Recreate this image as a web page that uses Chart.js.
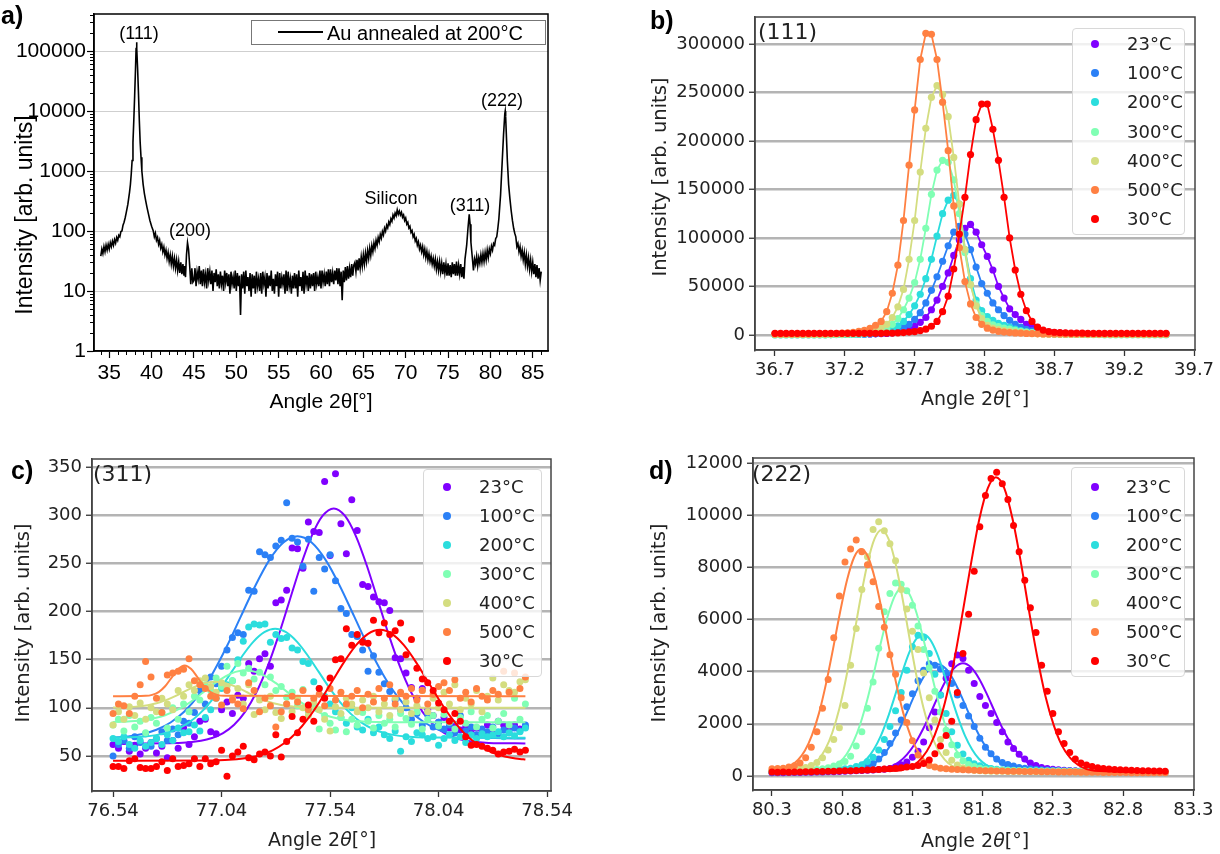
<!DOCTYPE html>
<html>
<head>
<meta charset="utf-8">
<style>
  html, body { margin: 0; padding: 0; background: #fff; }
  body { position: relative; width: 1220px; height: 854px; overflow: hidden; font-family: 'DejaVu Sans', sans-serif; color: #222; }
  canvas { position: absolute; }
  .t { position: absolute; white-space: nowrap; line-height: 1; }
  .c { transform: translate(-50%, -50%); }
  .rot { transform: translate(-50%, -50%) rotate(-90deg); }
  .arial { font-family: 'Liberation Sans', Arial, sans-serif; color: #000; }
  .tag { font-family: 'Liberation Sans', Arial, sans-serif; font-weight: bold; font-size: 25px; color: #000; }
  .leg { position: absolute; background: rgba(255,255,255,0.8); border: 1px solid #d8d8d8; border-radius: 4px; box-sizing: border-box; }
  .dot { position: absolute; width: 8px; height: 8px; border-radius: 50%; transform: translate(-50%, -50%); }
</style>
<script src="https://cdn.jsdelivr.net/npm/chart.js"></script>
<title>Au XRD</title>
</head>
<body>
<canvas id="chart_a" width="600" height="420" style="left:0;top:0"></canvas>
<canvas id="chart_b" width="620" height="420" style="left:600px;top:0"></canvas>
<canvas id="chart_c" width="600" height="434" style="left:0;top:420px"></canvas>
<canvas id="chart_d" width="610" height="434" style="left:610px;top:420px"></canvas>

<!-- panel a texts -->
<div class="t tag" style="left:1px;top:3px">a)</div>
<div class="t arial rot" style="left:24px;top:215px;font-size:23px">Intensity [arb. units]</div>
<div class="t arial c" style="left:321px;top:400px;font-size:21px">Angle 2θ[°]</div>
<div class="t arial c" style="left:139px;top:33px;font-size:18px">(111)</div>
<div class="t arial c" style="left:190px;top:230px;font-size:18px">(200)</div>
<div class="t arial c" style="left:391px;top:198px;font-size:18px">Silicon</div>
<div class="t arial c" style="left:470px;top:205px;font-size:18px">(311)</div>
<div class="t arial c" style="left:502px;top:100px;font-size:18px">(222)</div>
<div style="position:absolute;left:251px;top:20px;width:295px;height:25px;border:1px solid #777;box-sizing:border-box;background:#fff"></div>
<div style="position:absolute;left:278px;top:31px;width:45px;height:2px;background:#000"></div>
<div class="t arial" style="left:327px;top:23px;font-size:20px">Au annealed at 200°C</div>

<!-- panel b texts -->
<div class="t tag" style="left:650px;top:8px">b)</div>
<div class="t rot" style="left:660px;top:177px;font-size:19.5px">Intensity [arb. units]</div>
<div class="t c" style="left:975px;top:398px;font-size:19px">Angle 2<i>θ</i>[°]</div>
<div class="t" style="left:758px;top:21px;font-size:22px">(111)</div>

<!-- panel c texts -->
<div class="t tag" style="left:11px;top:458px">c)</div>
<div class="t rot" style="left:23px;top:623px;font-size:19.5px">Intensity [arb. units]</div>
<div class="t c" style="left:322px;top:839px;font-size:19px">Angle 2<i>θ</i>[°]</div>
<div class="t" style="left:93px;top:463px;font-size:22px">(311)</div>

<!-- panel d texts -->
<div class="t tag" style="left:649px;top:458px">d)</div>
<div class="t rot" style="left:659px;top:623px;font-size:19.5px">Intensity [arb. units]</div>
<div class="t c" style="left:975px;top:840px;font-size:19px">Angle 2<i>θ</i>[°]</div>
<div class="t" style="left:752px;top:463px;font-size:22px">(222)</div>

<script>
// ---------- shared ----------
const temps = ['23°C', '100°C', '200°C', '300°C', '400°C', '500°C', '30°C'];
const colors = ['#8000ff', '#2b80f6', '#2bdddd', '#80ffb4', '#d4dd80', '#ff8042', '#ff0000'];

// ---------- a) full scan, log scale ----------
const aAngle = [
  34.0, 34.125, 34.25, 34.375, 34.5, 34.625, 34.75, 34.875,
  35.0, 35.125, 35.25, 35.375, 35.5, 35.625, 35.75, 35.875,
  36.0, 36.125, 36.25, 36.375, 36.5, 36.625, 36.75, 36.875,
  37.0, 37.2, 37.4, 37.5, 37.6, 37.7, 37.8, 37.9,
  38.0, 38.1, 38.17, 38.22, 38.27, 38.35, 38.45, 38.55,
  38.65, 38.75, 38.85, 39.0, 39.15, 39.3, 39.45, 39.6,
  39.8, 40.0, 40.2, 40.325, 40.45, 40.575, 40.7, 40.825,
  40.95, 41.075, 41.2, 41.325, 41.45, 41.575, 41.7, 41.825,
  41.95, 42.075, 42.2, 42.325, 42.45, 42.575, 42.7, 42.825,
  42.95, 43.075, 43.2, 43.325, 43.45, 43.575, 43.7, 43.825,
  43.9, 44.0, 44.12, 44.24, 44.36, 44.5, 44.625, 44.75, 44.875,
  45.0, 45.125, 45.25, 45.375, 45.5, 45.625, 45.75, 45.875,
  46.0, 46.125, 46.25, 46.375, 46.5, 46.625, 46.75, 46.875,
  47.0, 47.125, 47.25, 47.375, 47.5, 47.625, 47.75, 47.875,
  48.0, 48.125, 48.25, 48.375, 48.5, 48.625, 48.75, 48.875,
  49.0, 49.125, 49.25, 49.375, 49.5, 49.625, 49.75, 49.875,
  50.0, 50.125, 50.25, 50.375, 50.5, 50.625, 50.75, 50.875,
  51.0, 51.125, 51.25, 51.375, 51.5, 51.625, 51.75, 51.875,
  52.0, 52.125, 52.25, 52.375, 52.5, 52.625, 52.75, 52.875,
  53.0, 53.125, 53.25, 53.375, 53.5, 53.625, 53.75, 53.875,
  54.0, 54.125, 54.25, 54.375, 54.5, 54.625, 54.75, 54.875,
  55.0, 55.125, 55.25, 55.375, 55.5, 55.625, 55.75, 55.875,
  56.0, 56.125, 56.25, 56.375, 56.5, 56.625, 56.75, 56.875,
  57.0, 57.125, 57.25, 57.375, 57.5, 57.625, 57.75, 57.875,
  58.0, 58.125, 58.25, 58.375, 58.5, 58.625, 58.75, 58.875,
  59.0, 59.125, 59.25, 59.375, 59.5, 59.625, 59.75, 59.875,
  60.0, 60.125, 60.25, 60.375, 60.5, 60.625, 60.75, 60.875,
  61.0, 61.125, 61.25, 61.375, 61.5, 61.625, 61.75, 61.875,
  62.0, 62.125, 62.25, 62.375, 62.5, 62.625, 62.75, 62.875,
  63.0, 63.125, 63.25, 63.375, 63.5, 63.625, 63.75, 63.875,
  64.0, 64.125, 64.25, 64.375, 64.5, 64.625, 64.75, 64.875,
  65.0, 65.125, 65.25, 65.375, 65.5, 65.625, 65.75, 65.875,
  66.0, 66.125, 66.25, 66.375, 66.5, 66.625, 66.75, 66.875,
  67.0, 67.125, 67.25, 67.375, 67.5, 67.625, 67.75, 67.875,
  68.0, 68.125, 68.25, 68.375, 68.5, 68.625, 68.75, 68.875,
  69.0, 69.125, 69.25, 69.375, 69.5, 69.625, 69.75, 69.875,
  70.0, 70.125, 70.25, 70.375, 70.5, 70.625, 70.75, 70.875,
  71.0, 71.125, 71.25, 71.375, 71.5, 71.625, 71.75, 71.875,
  72.0, 72.125, 72.25, 72.375, 72.5, 72.625, 72.75, 72.875,
  73.0, 73.125, 73.25, 73.375, 73.5, 73.625, 73.75, 73.875,
  74.0, 74.125, 74.25, 74.375, 74.5, 74.625, 74.75, 74.875,
  75.0, 75.125, 75.25, 75.375, 75.5, 75.625, 75.75, 75.875,
  76.0, 76.125, 76.25, 76.375, 76.5, 76.625, 76.75, 76.875,
  77.0, 77.2, 77.35, 77.5, 77.6, 77.7, 77.85,
  78.0, 78.125, 78.25, 78.375, 78.5, 78.625, 78.75, 78.875,
  79.0, 79.125, 79.25, 79.375, 79.5, 79.625, 79.75, 79.875,
  80.0, 80.125, 80.25, 80.375, 80.5, 80.625, 80.75, 80.875,
  81.0, 81.2, 81.4, 81.55, 81.7, 81.75, 81.8, 81.9, 82.0, 82.15,
  82.3, 82.45, 82.6, 82.75, 82.875,
  83.0, 83.125, 83.25, 83.375, 83.5, 83.625, 83.75, 83.875,
  84.0, 84.125, 84.25, 84.375, 84.5, 84.625, 84.75, 84.875,
  85.0, 85.125, 85.25, 85.375, 85.5, 85.625, 85.75, 85.875,
  86.0
];
const aCounts = [
  38, 50, 42, 55, 45, 58, 48, 60,
  50, 64, 55, 68, 58, 72, 63, 78,
  70, 85, 80, 98, 100, 125, 140, 165,
  200, 280, 450, 600, 900, 1500, 3000, 7000,
  18000, 50000, 110000, 140000, 110000, 50000, 20000, 7000,
  3000, 1700, 1000, 600, 420, 320, 250, 200,
  150, 120, 100, 80, 92, 70, 78, 60,
  70, 52, 60, 45, 54, 40, 48, 35,
  44, 31, 40, 28, 38, 26, 35, 24,
  33, 22, 31, 20, 30, 19, 28, 18,
  26, 17, 40, 64, 50, 26, 13, 24, 14,
  15, 24, 12, 21, 16, 26, 13, 22,
  12, 23, 14, 19, 11, 24, 15, 21,
  13, 22, 10, 20, 14, 23, 12, 19,
  11, 21, 13, 18, 10, 22, 14, 20,
  12, 19, 9, 21, 13, 17, 11, 22,
  10, 20, 12, 18, 4, 19, 11, 21,
  9, 22, 12, 17, 10, 20, 8, 19,
  11, 18, 9, 21, 12, 16, 10, 20,
  9, 21, 13, 17, 8, 20, 11, 18,
  12, 22, 10, 16, 9, 19, 12, 21,
  8, 20, 11, 17, 13, 19, 9, 22,
  10, 21, 12, 16, 9, 18, 11, 20,
  11, 19, 8, 22, 12, 17, 10, 21,
  9, 22, 13, 18, 10, 20, 11, 19,
  12, 20, 10, 21, 13, 17, 12, 22,
  11, 22, 14, 19, 12, 21, 13, 23,
  12, 23, 14, 20, 13, 22, 15, 24,
  13, 24, 12, 21, 7, 22, 14, 25,
  15, 26, 16, 24, 17, 28, 18, 27,
  30, 21, 33, 22, 35, 24, 37, 26,
  40, 28, 43, 31, 47, 35, 52, 39,
  57, 45, 63, 51, 70, 58, 78, 66,
  88, 76, 98, 86, 112, 99, 125, 113,
  142, 128, 160, 145, 185, 165, 200, 180,
  225, 190, 215, 185, 205, 170, 185, 150,
  165, 130, 140, 112, 120, 95, 102, 80,
  88, 68, 75, 58, 66, 50, 58, 45,
  55, 40, 50, 36, 46, 33, 42, 31,
  38, 28, 35, 26, 34, 23, 31, 22,
  31, 21, 29, 19, 30, 20, 28, 18,
  29, 18, 27, 17, 30, 19, 28, 18,
  31, 18, 27, 19, 28, 17, 25, 16,
  34, 58, 110, 190, 130, 65, 38,
  22, 34, 28, 38, 26, 36, 29, 40,
  30, 42, 31, 44, 33, 48, 36, 50,
  42, 56, 48, 62, 58, 75, 80, 110,
  160, 400, 1500, 4000, 9000, 10000, 8000, 3500, 1500, 600,
  350, 220, 150, 110, 92,
  80, 55, 62, 45, 55, 38, 48, 33,
  44, 28, 40, 26, 36, 23, 33, 21,
  30, 19, 28, 17, 27, 16, 24, 15,
  21
];
const aXTicks = [35, 40, 45, 50, 55, 60, 65, 70, 75, 80, 85];
const aYTicks = [1, 10, 100, 1000, 10000, 100000];

// ---------- b) (111) ----------
const bAngle = [
  36.70, 36.74, 36.78, 36.82, 36.86, 36.90, 36.94, 36.98, 37.02, 37.06,
  37.10, 37.14, 37.18, 37.22, 37.26, 37.30, 37.34, 37.38, 37.42, 37.46,
  37.50, 37.54, 37.58, 37.62, 37.66, 37.70, 37.74, 37.78, 37.82, 37.86,
  37.90, 37.94, 37.98, 38.02, 38.06, 38.10, 38.14, 38.18, 38.22, 38.26,
  38.30, 38.34, 38.38, 38.42, 38.46, 38.50, 38.54, 38.58, 38.62, 38.66,
  38.70, 38.74, 38.78, 38.82, 38.86, 38.90, 38.94, 38.98, 39.02, 39.06,
  39.10, 39.14, 39.18, 39.22, 39.26, 39.30, 39.34, 39.38, 39.42, 39.46,
  39.50
];
const b23 = [
  500, 500, 500, 500, 500, 500, 500, 500, 500, 500,
  550, 600, 650, 700, 750, 800, 900, 1000, 1200, 1400,
  1500, 2200, 3200, 4500, 6500, 9000, 13000, 18000, 26000, 36000,
  50000, 64000, 82000, 98000, 110000, 114000, 106000, 93000, 81000, 67000,
  50000, 38000, 27000, 21000, 16000, 11000, 8000, 5500, 4000, 3000,
  2400, 2000, 1700, 1500, 1300, 1200, 1100, 1000, 900, 800,
  800, 700, 700, 600, 600, 600, 500, 500, 500, 500,
  500
];
const b100 = [
  400, 400, 400, 400, 400, 400, 400, 400, 400, 400,
  450, 500, 550, 600, 650, 700, 850, 1000, 1200, 1800,
  2600, 3800, 5500, 8000, 11000, 16000, 23000, 33000, 46000, 60000,
  76000, 92000, 106000, 112000, 104000, 88000, 70000, 53000, 43000, 33000,
  26000, 20000, 15000, 11000, 8000, 5800, 4200, 3200, 2500, 2000,
  1600, 1300, 1100, 900, 800, 700, 700, 600, 600, 500,
  500, 500, 500, 500, 500, 500, 500, 500, 500, 500,
  500
];
const b200 = [
  300, 300, 300, 300, 300, 300, 300, 300, 300, 300,
  350, 400, 450, 500, 600, 800, 1100, 1500, 2200, 3200,
  4500, 6500, 9500, 14000, 21000, 30000, 42000, 58000, 78000, 102000,
  125000, 139000, 144000, 135000, 88000, 58000, 36000, 25000, 19000, 15000,
  12000, 10000, 8000, 6000, 4500, 3300, 2500, 2000, 1600, 1300,
  1100, 900, 800, 700, 600, 600, 500, 500, 500, 400,
  400, 400, 400, 400, 400, 400, 400, 400, 400, 400,
  400
];
const b300 = [
  300, 300, 300, 300, 300, 300, 300, 300, 300, 300,
  400, 500, 600, 700, 850, 1000, 1500, 2200, 3200, 4800,
  7000, 11000, 17000, 26000, 38000, 54000, 78000, 110000, 145000, 170000,
  180000, 178000, 160000, 125000, 85000, 52000, 32000, 20000, 14000, 10500,
  8500, 7200, 6000, 4800, 3800, 3000, 2400, 1900, 1500, 1200,
  1000, 800, 700, 600, 500, 500, 400, 400, 400, 300,
  300, 300, 300, 300, 300, 300, 300, 300, 300, 300,
  300
];
const b400 = [
  500, 500, 500, 500, 500, 500, 500, 500, 500, 500,
  600, 700, 800, 1000, 1300, 1800, 2500, 3500, 5000, 7500,
  11000, 18000, 29000, 47000, 78000, 118000, 168000, 213000, 245000, 257000,
  248000, 225000, 183000, 135000, 88000, 52000, 30000, 17000, 10000, 7000,
  5500, 4500, 3800, 3000, 2400, 1900, 1500, 1200, 1000, 800,
  700, 600, 600, 500, 500, 500, 500, 500, 500, 500,
  500, 500, 500, 500, 500, 500, 500, 500, 500, 500,
  500
];
const b500 = [
  1000, 1000, 1000, 1100, 1100, 1100, 1100, 1200, 1200, 1200,
  1300, 1500, 1800, 2200, 2800, 3600, 4800, 6800, 10000, 14000,
  24000, 43000, 72000, 118000, 175000, 232000, 284000, 311000, 310000, 284000,
  240000, 190000, 133000, 90000, 55000, 32000, 18000, 11000, 7000, 5000,
  3800, 3000, 2500, 2100, 1800, 1500, 1300, 1200, 1100, 1000,
  1000, 1000, 1000, 1000, 1000, 1000, 1000, 1000, 1000, 1000,
  1000, 1000, 1000, 1000, 1000, 1000, 1000, 1000, 1000, 1000,
  1000
];
const b30 = [
  1700, 1700, 1700, 1700, 1700, 1700, 1700, 1700, 1700, 1700,
  1700, 1700, 1700, 1700, 1700, 1700, 1700, 1700, 1700, 1700,
  2000, 2000, 2200, 2500, 3000, 3500, 4500, 6000, 9000, 14000,
  24000, 40000, 68000, 104000, 142000, 186000, 222000, 238000, 238000, 212000,
  180000, 142000, 100000, 67000, 42000, 25000, 14000, 8000, 5000, 3500,
  2800, 2400, 2200, 2000, 1900, 1800, 1700, 1700, 1700, 1700,
  1700, 1700, 1700, 1700, 1700, 1700, 1700, 1700, 1700, 1700,
  1700
];
const bXTicks = [36.7, 37.2, 37.7, 38.2, 38.7, 39.2, 39.7];
const bYTicks = [0, 50000, 100000, 150000, 200000, 250000, 300000];

// ---------- c) (311) ----------
const cAngle = [
  76.54, 76.565, 76.59, 76.615, 76.64, 76.665, 76.69, 76.715, 76.74, 76.765,
  76.79, 76.815, 76.84, 76.865, 76.89, 76.915, 76.94, 76.965, 76.99, 77.015,
  77.04, 77.065, 77.09, 77.115, 77.14, 77.165, 77.19, 77.215, 77.24, 77.265,
  77.29, 77.315, 77.34, 77.365, 77.39, 77.415, 77.44, 77.465, 77.49, 77.515,
  77.54, 77.565, 77.59, 77.615, 77.64, 77.665, 77.69, 77.715, 77.74, 77.765,
  77.79, 77.815, 77.84, 77.865, 77.89, 77.915, 77.94, 77.965, 77.99, 78.015,
  78.04, 78.065, 78.09, 78.115, 78.14, 78.165, 78.19, 78.215, 78.24, 78.265,
  78.29, 78.315, 78.34, 78.365, 78.39, 78.415, 78.44
];
const c23 = [
  62, 58, 65, 55, 61, 52, 58, 64, 53, 60,
  48, 66, 58, 79, 62, 70, 86, 88, 75, 73,
  98, 106, 94, 113, 110, 146, 138, 151, 156, 143,
  209, 212, 222, 266, 265, 245, 293, 283, 282, 335,
  258, 343, 291, 260, 316, 284, 228, 226, 215, 210,
  209, 201, 152, 151, 136, 121, 110, 120, 98, 92,
  85, 90, 79, 83, 77, 80, 74, 79, 75, 82,
  76, 86, 82, 80, 82, 78, 80
];
const c100 = [
  50, 62, 66, 58, 70, 64, 73, 60, 68, 75,
  66, 78, 72, 86, 84, 95, 118, 104, 132, 125,
  143, 160, 173, 178, 176, 222, 221, 262, 259, 256,
  268, 274, 313, 276, 272, 247, 275, 221, 256, 244,
  259, 232, 203, 198, 176, 174, 160, 138, 154, 137,
  125, 117, 108, 98, 100, 88, 94, 82, 93, 80,
  85, 78, 82, 74, 92, 76, 80, 72, 78, 75,
  80, 73, 77, 74, 79, 76, 82
];
const c200 = [
  68, 65, 70, 62, 58, 66, 60, 64, 68, 62,
  72, 66, 79, 74, 75, 82, 76, 90, 98, 110,
  120, 124, 128, 150, 169, 184, 187, 186, 187, 168,
  176, 172, 173, 162, 160, 148, 146, 127, 120, 112,
  104, 96, 90, 84, 100, 80, 77, 88, 74, 80,
  72, 68, 76, 55, 70, 65, 74, 72, 68, 70,
  61, 68, 72, 66, 70, 64, 72, 68, 73, 70,
  72, 75, 70, 74, 71, 75, 79
];
const c300 = [
  82, 88, 76, 92, 80, 86, 74, 90, 84, 95,
  79, 100, 88, 104, 96, 112, 108, 124, 118, 131,
  122, 143, 128, 146, 136, 141, 130, 137, 124, 132,
  118, 122, 111, 116, 102, 119, 96, 101, 78, 92,
  84, 77, 90, 75, 88, 82, 95, 86, 79, 92,
  84, 88, 80, 94, 89, 83, 96, 78, 88, 92,
  81, 93, 85, 78, 90, 84, 96, 80, 88, 92,
  79, 86, 94, 82, 110, 88, 104
];
const c400 = [
  82, 96, 88, 101, 92, 105, 88, 100, 96, 110,
  104, 98, 118, 112, 124, 118, 128, 131, 122, 116,
  126, 122, 110, 120, 104, 124, 93, 108, 98, 112,
  95, 89, 104, 96, 110, 100, 92, 106, 98, 88,
  76, 101, 94, 110, 104, 96, 108, 100, 112, 96,
  104, 92, 110, 98, 106, 94, 102, 118, 96, 110,
  100, 116, 104, 124, 98, 110, 104, 118, 96, 112,
  131, 108, 124, 118, 116, 127, 129
];
const c500 = [
  94, 104, 102, 94, 112, 124, 148, 132, 110, 95,
  134, 136, 138, 140, 151, 128, 124, 120, 112, 110,
  103, 118, 108, 104, 99, 126, 118, 96, 110, 102,
  80, 96, 104, 112, 106, 118, 98, 110, 114, 102,
  120, 108, 116, 104, 112, 118, 100, 114, 106, 120,
  110, 124, 104, 116, 112, 120, 108, 118, 104, 114,
  122, 126, 118, 129, 110, 116, 106, 120, 112, 108,
  118, 114, 138, 116, 136, 120, 132
];
const c30 = [
  39, 39, 37, 45, 47, 38, 37, 37, 39, 44,
  35, 47, 39, 40, 42, 47, 39, 47, 42, 44,
  56, 29, 50, 54, 60, 48, 46, 52, 54, 50,
  72, 49, 65, 91, 74, 88, 103, 86, 120, 110,
  131, 150, 151, 182, 165, 176, 168, 167, 191, 178,
  188, 176, 180, 188, 155, 171, 141, 130, 126, 118,
  105, 98, 86, 94, 86, 70, 61, 62, 60, 58,
  56, 52, 54, 55, 57, 54, 56
];
// fitted curves for c
const cFitX23 = [76.54, 76.843, 76.945, 76.996, 77.047, 77.098, 77.149, 77.2, 77.251, 77.302, 77.353, 77.404, 77.455, 77.506, 77.557, 77.608, 77.659, 77.71, 77.761, 77.812, 77.863, 77.914, 77.965, 78.016, 78.067, 78.118, 78.169, 78.271, 78.44];
const cFit23 = [63, 63.5, 65.7, 68.6, 73.7, 82.4, 96, 115.8, 142.2, 174.7, 211, 247.2, 278.3, 299.4, 307, 299.4, 278.3, 247.2, 211, 174.7, 142.2, 115.8, 96, 82.4, 73.7, 68.6, 65.7, 63.5, 63];
const cFitX100 = [76.54, 76.61, 76.675, 76.74, 76.805, 76.87, 76.935, 77.0, 77.065, 77.13, 77.195, 77.26, 77.325, 77.39, 77.455, 77.52, 77.585, 77.65, 77.715, 77.78, 77.845, 77.91, 77.975, 78.04, 78.105, 78.17, 78.3, 78.44];
const cFit100 = [69, 70.3, 72.8, 77.2, 84.7, 96.4, 113.4, 136.2, 164.1, 195.4, 226.5, 253.3, 271.5, 278, 271.5, 253.3, 226.5, 195.4, 164.1, 136.2, 113.4, 96.4, 84.7, 77.2, 72.8, 70.3, 68.5, 68];
const cFitX200 = [76.54, 76.587, 76.687, 76.737, 76.787, 76.837, 76.887, 76.937, 76.987, 77.037, 77.087, 77.137, 77.187, 77.237, 77.287, 77.337, 77.387, 77.437, 77.487, 77.537, 77.587, 77.637, 77.687, 77.737, 77.787, 77.837, 77.887, 77.987, 78.44];
const cFit200 = [69, 69.2, 70.3, 71.6, 74, 78, 84.3, 93.4, 105.7, 120.7, 137.5, 154.3, 168.7, 178.5, 182, 178.5, 168.7, 154.3, 137.5, 120.7, 105.7, 93.4, 84.3, 78, 74, 71.6, 70.3, 69.2, 69];
const cFitX300 = [76.54, 76.595, 76.641, 76.688, 76.734, 76.78, 76.826, 76.873, 76.919, 76.965, 77.011, 77.058, 77.104, 77.15, 77.196, 77.243, 77.289, 77.335, 77.381, 77.428, 77.474, 77.52, 77.566, 77.613, 77.659, 77.705, 77.798, 78.44];
const cFit300 = [85.3, 85.6, 86.2, 87.4, 89.3, 92.3, 96.7, 102.5, 109.7, 117.8, 125.8, 132.7, 137.3, 139, 137.3, 132.7, 125.8, 117.8, 109.7, 102.5, 96.7, 92.3, 89.3, 87.4, 86.2, 85.6, 85.1, 85];
const cFitX400 = [76.54, 76.575, 76.611, 76.648, 76.684, 76.72, 76.756, 76.793, 76.829, 76.865, 76.901, 76.938, 76.974, 77.01, 77.046, 77.083, 77.119, 77.155, 77.191, 77.228, 77.264, 77.3, 77.336, 77.373, 77.409, 77.445, 77.518, 78.44];
const cFit400 = [100.2, 100.3, 100.6, 101.2, 102.1, 103.7, 105.8, 108.8, 112.4, 116.4, 120.4, 123.8, 126.2, 127, 126.2, 123.8, 120.4, 116.4, 112.4, 108.8, 105.8, 103.7, 102.1, 101.2, 100.6, 100.3, 100.1, 100];
const cFitX500 = [76.54, 76.69, 76.72, 76.75, 76.78, 76.81, 76.84, 76.87, 76.9, 76.93, 76.96, 76.99, 77.02, 77.05, 78.44];
const cFit500 = [112, 112.4, 113.4, 116.3, 122.4, 131.4, 140.2, 144, 140.2, 131.4, 122.4, 116.3, 113.4, 112.4, 112];
const cFitX30 = [76.54, 77.0, 77.11, 77.165, 77.22, 77.275, 77.33, 77.385, 77.44, 77.495, 77.55, 77.605, 77.66, 77.715, 77.77, 77.825, 77.88, 77.935, 77.99, 78.045, 78.1, 78.155, 78.21, 78.265, 78.32, 78.375, 78.43, 78.44];
const cFit30 = [45, 45.3, 46.5, 48.1, 51, 55.8, 63.4, 74.4, 89.2, 107.3, 127.5, 147.7, 165, 176.8, 181, 176.8, 165, 147.7, 127.5, 107.3, 89.2, 74.4, 63.4, 55.8, 51, 48.1, 46.5, 46.3];
const cXTicks = [76.54, 77.04, 77.54, 78.04, 78.54];
const cYTicks = [50, 100, 150, 200, 250, 300, 350];

// ---------- d) (222) ----------
const dAngle = [
  80.30, 80.34, 80.38, 80.42, 80.46, 80.50, 80.54, 80.58, 80.62, 80.66,
  80.70, 80.74, 80.78, 80.82, 80.86, 80.90, 80.94, 80.98, 81.02, 81.06,
  81.10, 81.14, 81.18, 81.22, 81.26, 81.30, 81.34, 81.38, 81.42, 81.46,
  81.50, 81.54, 81.58, 81.62, 81.66, 81.70, 81.74, 81.78, 81.82, 81.86,
  81.90, 81.94, 81.98, 82.02, 82.06, 82.10, 82.14, 82.18, 82.22, 82.26,
  82.30, 82.34, 82.38, 82.42, 82.46, 82.50, 82.54, 82.58, 82.62, 82.66,
  82.70, 82.74, 82.78, 82.82, 82.86, 82.90, 82.94, 82.98, 83.02, 83.06,
  83.10
];
const d23 = [
  120, 120, 120, 130, 130, 130, 140, 140, 150, 150,
  160, 160, 170, 180, 190, 200, 210, 220, 230, 245,
  260, 290, 350, 430, 540, 720, 950, 1300, 1850, 2450,
  3100, 3750, 4300, 4640, 4500, 4050, 3550, 3050, 2700, 2400,
  2050, 1700, 1300, 1050, 830, 650, 500, 400, 330, 290,
  260, 240, 220, 210, 200, 190, 180, 170, 170, 160,
  160, 160, 150, 150, 150, 150, 140, 140, 140, 140,
  140
];
const d100 = [
  140, 140, 150, 150, 150, 160, 160, 170, 170, 180,
  190, 200, 210, 220, 240, 260, 300, 380, 480, 650,
  900, 1250, 1650, 2150, 2650, 3150, 3650, 4050, 4300, 4250,
  4100, 3950, 3550, 3100, 2700, 2300, 1900, 1450, 1100, 850,
  650, 520, 440, 380, 330, 300, 280, 260, 240, 230,
  220, 210, 200, 200, 190, 190, 180, 180, 170, 170,
  170, 160, 160, 160, 160, 150, 150, 150, 150, 150,
  150
];
const d200 = [
  170, 170, 170, 180, 180, 180, 190, 190, 200, 200,
  210, 230, 250, 280, 300, 360, 430, 560, 720, 1000,
  1400, 1900, 2500, 3200, 4050, 4950, 5400, 5300, 4700, 3900,
  3100, 2400, 1700, 1180, 840, 600, 470, 390, 330, 290,
  260, 240, 230, 220, 210, 200, 200, 190, 190, 180,
  180, 180, 170, 170, 170, 170, 160, 160, 160, 160,
  160, 160, 150, 150, 150, 150, 150, 150, 150, 150,
  150
];
const d300 = [
  180, 180, 190, 190, 200, 200, 210, 220, 250, 280,
  320, 380, 460, 560, 760, 1150, 1700, 2600, 3600, 4900,
  6300, 7000, 7400, 7350, 7100, 6550, 5750, 4850, 4150, 3250,
  2450, 1750, 1200, 800, 580, 440, 360, 300, 260, 240,
  230, 220, 220, 210, 210, 200, 200, 200, 190, 190,
  190, 190, 180, 180, 180, 180, 180, 170, 170, 170,
  170, 170, 170, 160, 160, 160, 160, 160, 160, 160,
  160
];
const d400 = [
  200, 210, 220, 240, 260, 290, 330, 400, 520, 700,
  1000, 1400, 1850, 2700, 4250, 5650, 7150, 8400, 9450, 9750,
  9400, 8900, 8250, 7150, 6400, 5550, 4850, 3950, 3000, 2150,
  1400, 900, 600, 420, 320, 260, 220, 200, 190, 180,
  180, 180, 170, 170, 170, 170, 170, 160, 160, 160,
  160, 160, 160, 160, 150, 150, 150, 150, 150, 150,
  150, 150, 150, 150, 150, 140, 140, 140, 140, 140,
  140
];
const d500 = [
  280, 290, 300, 340, 390, 500, 700, 1100, 1700, 2600,
  3700, 5300, 6900, 8200, 8700, 9050, 8600, 8100, 7450, 6500,
  5700, 4650, 3900, 3000, 2050, 1350, 800, 520, 400, 340,
  300, 280, 260, 250, 240, 230, 220, 210, 200, 200,
  190, 190, 180, 180, 180, 170, 170, 170, 160, 160,
  160, 150, 150, 150, 150, 140, 140, 140, 140, 130,
  130, 130, 130, 130, 120, 120, 120, 120, 120, 120,
  120
];
const d30 = [
  150, 140, 150, 140, 150, 150, 160, 160, 170, 170,
  180, 180, 190, 200, 200, 210, 220, 230, 240, 250,
  270, 280, 300, 320, 340, 360, 400, 480, 610, 850,
  1150, 1550, 2100, 3200, 4700, 6200, 7850, 9550, 10750, 11400,
  11640, 11200, 10600, 9600, 8600, 7500, 6450, 5500, 4250, 3250,
  2400, 1700, 1250, 900, 650, 500, 420, 360, 320, 290,
  270, 250, 240, 230, 220, 210, 200, 200, 190, 190,
  180
];
// fitted curves for d
const dFitX23 = [80.3, 80.976, 81.09, 81.147, 81.204, 81.261, 81.318, 81.375, 81.432, 81.489, 81.546, 81.603, 81.66, 81.717, 81.774, 81.831, 81.888, 81.945, 82.002, 82.059, 82.116, 82.173, 82.23, 82.344, 83.1];
const dFit23 = [150, 169, 250, 353, 532, 821, 1234, 1789, 2444, 3131, 3740, 4166, 4320, 4166, 3740, 3131, 2444, 1789, 1234, 821, 532, 353, 250, 169, 150];
const dFitX100 = [80.3, 80.82, 80.93, 80.985, 81.04, 81.095, 81.15, 81.205, 81.26, 81.315, 81.37, 81.425, 81.48, 81.535, 81.59, 81.645, 81.7, 81.755, 81.81, 81.865, 81.92, 81.975, 82.03, 82.14, 83.1];
const dFit100 = [150, 169, 249, 351, 528, 815, 1224, 1773, 2422, 3103, 3706, 4127, 4280, 4127, 3706, 3103, 2422, 1773, 1224, 815, 528, 351, 249, 169, 150];
const dFitX200 = [80.3, 80.775, 80.875, 80.925, 80.975, 81.025, 81.075, 81.125, 81.175, 81.225, 81.275, 81.325, 81.375, 81.425, 81.475, 81.525, 81.575, 81.625, 81.675, 81.725, 81.775, 81.825, 81.875, 81.975, 83.1];
const dFit200 = [170, 194, 296, 426, 651, 1017, 1538, 2237, 3063, 3931, 4699, 5235, 5430, 5235, 4699, 3931, 3063, 2237, 1538, 1017, 651, 426, 296, 194, 170];
const dFitX300 = [80.3, 80.63, 80.73, 80.78, 80.83, 80.88, 80.93, 80.98, 81.03, 81.08, 81.13, 81.18, 81.23, 81.28, 81.33, 81.38, 81.43, 81.48, 81.53, 81.58, 81.63, 81.68, 81.73, 81.83, 83.1];
const dFit300 = [180, 212, 349, 523, 824, 1313, 2010, 2947, 4052, 5214, 6241, 6960, 7220, 6960, 6241, 5214, 4052, 2947, 2010, 1313, 824, 523, 349, 212, 180];
const dFitX400 = [80.3, 80.48, 80.58, 80.63, 80.68, 80.73, 80.78, 80.83, 80.88, 80.93, 80.98, 81.03, 81.08, 81.13, 81.18, 81.23, 81.28, 81.33, 81.38, 81.43, 81.48, 81.53, 81.58, 81.68, 83.1];
const dFit400 = [180, 223, 402, 630, 1026, 1669, 2585, 3815, 5268, 6794, 8144, 9088, 9430, 9088, 8144, 6794, 5268, 3815, 2585, 1669, 1026, 630, 402, 223, 180];
const dFitX500 = [80.3, 80.335, 80.435, 80.485, 80.535, 80.585, 80.635, 80.685, 80.735, 80.785, 80.835, 80.885, 80.935, 80.985, 81.035, 81.085, 81.135, 81.185, 81.235, 81.285, 81.335, 81.385, 81.435, 81.535, 83.1];
const dFit500 = [220, 239, 404, 614, 978, 1569, 2410, 3541, 4875, 6278, 7519, 8386, 8700, 8386, 7519, 6278, 4875, 3541, 2410, 1569, 978, 614, 404, 239, 200];
const dFitX30 = [80.3, 81.193, 81.31, 81.369, 81.427, 81.486, 81.544, 81.603, 81.661, 81.72, 81.778, 81.837, 81.895, 81.954, 82.012, 82.071, 82.129, 82.188, 82.246, 82.305, 82.363, 82.422, 82.48, 82.597, 83.1];
const dFit30 = [150, 202, 421, 700, 1184, 1969, 3088, 4591, 6365, 8230, 9879, 11032, 11450, 11032, 9879, 8230, 6365, 4591, 3088, 1969, 1184, 700, 421, 202, 150];
const dXTicks = [80.3, 80.8, 81.3, 81.8, 82.3, 82.8, 83.3];
const dYTicks = [0, 2000, 4000, 6000, 8000, 10000, 12000];

// ---------- helpers ----------
Chart.defaults.font.family = "'DejaVu Sans', sans-serif";

const toPoints = (xs, ys) => ys.map((y, i) => ({ x: xs[i], y: y }));

// box round the plot area, like the spines
const framePlugin = {
  id: 'frame',
  afterDraw(chart, args, opts) {
    const { ctx, chartArea: a } = chart;
    ctx.save();
    ctx.strokeStyle = opts.color || '#000';
    ctx.lineWidth = opts.width || 1;
    ctx.strokeRect(a.left, a.top, a.right - a.left, a.bottom - a.top);
    ctx.restore();
  }
};

// short minor ticks for the Origin style panel
const minorTicksPlugin = {
  id: 'minorTicks',
  afterDraw(chart) {
    const { ctx, chartArea: a, scales: { x, y } } = chart;
    ctx.save();
    ctx.strokeStyle = '#000';
    ctx.lineWidth = 1;
    ctx.beginPath();
    for (let v = Math.ceil(x.min); v <= x.max; v++) {
      if (v % 5 === 0) continue;
      const px = Math.round(x.getPixelForValue(v)) + 0.5;
      ctx.moveTo(px, a.bottom);
      ctx.lineTo(px, a.bottom + 4);
    }
    for (let dec = 1; dec < y.max; dec *= 10) {
      for (let m = 2; m <= 9; m++) {
        const v = dec * m;
        if (v > y.max) break;
        const py = Math.round(y.getPixelForValue(v)) + 0.5;
        ctx.moveTo(a.left - 4, py);
        ctx.lineTo(a.left, py);
      }
    }
    ctx.stroke();
    ctx.restore();
  }
};

function mplChart(id, datasets, ax) {
  return new Chart(document.getElementById(id), {
    type: 'scatter',
    data: { datasets: datasets },
    options: {
      responsive: false,
      animation: false,
      events: [],
      layout: { padding: { top: ax.padTop, right: ax.padRight, left: 0, bottom: 0 } },
      plugins: {
        legend: { display: false },
        tooltip: { enabled: false },
        frame: { color: '#444', width: 1.5 }
      },
      scales: {
        x: {
          type: 'linear', min: ax.xMin, max: ax.xMax,
          afterBuildTicks: s => { s.ticks = ax.xTicks.map(v => ({ value: v })); },
          afterFit: s => { s.height = ax.xHeight; },
          grid: { drawOnChartArea: false, drawTicks: true, tickLength: 6, tickColor: '#333', tickWidth: 1.3 },
          border: { display: true, color: '#444', width: 1.5 },
          ticks: { color: '#222', font: { size: 18 }, padding: 4, maxRotation: 0, autoSkip: false,
                   callback: v => v.toFixed(ax.xDigits) }
        },
        y: {
          type: 'linear', min: ax.yMin, max: ax.yMax,
          afterBuildTicks: s => { s.ticks = ax.yTicks.map(v => ({ value: v })); },
          afterFit: s => { s.width = ax.yWidth; },
          grid: { color: '#b4b4b4', lineWidth: 2.5, drawTicks: true, tickLength: 6, tickColor: '#333', tickWidth: 1.3 },
          border: { display: true, color: '#444', width: 1.5 },
          ticks: { color: '#222', font: { size: 18 }, padding: 4, autoSkip: false, callback: v => String(v) }
        }
      }
    },
    plugins: [framePlugin]
  });
}

function buildLegend(box, dotX, textX, y0, step) {
  const el = document.createElement('div');
  el.className = 'leg';
  el.style.cssText = `left:${box[0]}px;top:${box[1]}px;width:${box[2]}px;height:${box[3]}px`;
  document.body.appendChild(el);
  temps.forEach((label, i) => {
    const y = y0 + step * i;
    const dot = document.createElement('div');
    dot.className = 'dot';
    dot.style.cssText = `left:${dotX}px;top:${y}px;background:${colors[i]}`;
    document.body.appendChild(dot);
    const txt = document.createElement('div');
    txt.className = 't';
    txt.style.cssText = `left:${textX}px;top:${y}px;font-size:18px;transform:translateY(-50%)`;
    txt.textContent = label;
    document.body.appendChild(txt);
  });
}

// ---------- a ----------
new Chart(document.getElementById('chart_a'), {
  type: 'scatter',
  data: {
    datasets: [{
      label: 'Au annealed at 200°C',
      data: toPoints(aAngle, aCounts),
      showLine: true,
      borderColor: '#000',
      borderWidth: 1.6,
      pointRadius: 0,
      tension: 0
    }]
  },
  options: {
    responsive: false,
    animation: false,
    events: [],
    layout: { padding: { top: 14, right: 52, left: 0, bottom: 0 } },
    plugins: { legend: { display: false }, tooltip: { enabled: false }, frame: { color: '#000', width: 1.5 } },
    scales: {
      x: {
        type: 'linear', min: 33.2, max: 86.8,
        afterBuildTicks: s => { s.ticks = aXTicks.map(v => ({ value: v })); },
        afterFit: s => { s.height = 69; },
        grid: { drawOnChartArea: false, drawTicks: true, tickLength: 7, tickColor: '#000', tickWidth: 1.2 },
        border: { display: true, color: '#000', width: 1.5 },
        ticks: { color: '#000', font: { family: "'Liberation Sans', Arial, sans-serif", size: 21 }, padding: 3, maxRotation: 0, autoSkip: false }
      },
      y: {
        type: 'logarithmic', min: 1, max: 414000,
        afterBuildTicks: s => { s.ticks = aYTicks.map(v => ({ value: v })); },
        afterFit: s => { s.width = 94; },
        grid: { color: '#cfcfcf', lineWidth: 1, drawTicks: true, tickLength: 7, tickColor: '#000', tickWidth: 1.2 },
        border: { display: true, color: '#000', width: 1.5 },
        ticks: { color: '#000', font: { family: "'Liberation Sans', Arial, sans-serif", size: 21 }, padding: 1, autoSkip: false,
                 callback: v => String(v) }
      }
    }
  },
  plugins: [framePlugin, minorTicksPlugin]
});

// ---------- b ----------
const bSeries = [b23, b100, b200, b300, b400, b500, b30];
mplChart('chart_b', bSeries.map((ys, i) => ({
  label: temps[i],
  data: toPoints(bAngle, ys),
  showLine: true,
  borderColor: colors[i],
  backgroundColor: colors[i],
  borderWidth: 1.8,
  pointRadius: 3.6,
  pointBorderWidth: 0,
  order: 6 - i
})), {
  padTop: 17, padRight: 25, xHeight: 70, yWidth: 155,
  xMin: 36.557, xMax: 39.707, xTicks: bXTicks, xDigits: 1,
  yMin: -15500, yMax: 327800, yTicks: bYTicks
});

// ---------- c ----------
const cSeries = [c23, c100, c200, c300, c400, c500, c30];
const cFitXs = [cFitX23, cFitX100, cFitX200, cFitX300, cFitX400, cFitX500, cFitX30];
const cFits = [cFit23, cFit100, cFit200, cFit300, cFit400, cFit500, cFit30];
const cSets = [];
cSeries.forEach((ys, i) => {
  cSets.push({
    label: temps[i],
    data: toPoints(cAngle, ys),
    showLine: false,
    backgroundColor: colors[i],
    pointRadius: 3.5,
    pointBorderWidth: 0,
    order: (6 - i) * 2 + 1
  });
  cSets.push({
    label: temps[i] + ' fit',
    data: toPoints(cFitXs[i], cFits[i]),
    showLine: true,
    borderColor: colors[i],
    borderWidth: 2,
    pointRadius: 0,
    cubicInterpolationMode: 'monotone',
    order: (6 - i) * 2
  });
});
mplChart('chart_c', cSets, {
  padTop: 39, padRight: 49, xHeight: 63, yWidth: 92,
  xMin: 76.443, xMax: 78.558, xTicks: cXTicks, xDigits: 2,
  yMin: 13.6, yMax: 358.3, yTicks: cYTicks
});

// ---------- d ----------
const dSeries = [d23, d100, d200, d300, d400, d500, d30];
const dFitXs = [dFitX23, dFitX100, dFitX200, dFitX300, dFitX400, dFitX500, dFitX30];
const dFits = [dFit23, dFit100, dFit200, dFit300, dFit400, dFit500, dFit30];
const dSets = [];
dSeries.forEach((ys, i) => {
  dSets.push({
    label: temps[i],
    data: toPoints(dAngle, ys),
    showLine: false,
    backgroundColor: colors[i],
    pointRadius: 3.5,
    pointBorderWidth: 0,
    order: (6 - i) * 2 + 1
  });
  dSets.push({
    label: temps[i] + ' fit',
    data: toPoints(dFitXs[i], dFits[i]),
    showLine: true,
    borderColor: colors[i],
    borderWidth: 2,
    pointRadius: 0,
    cubicInterpolationMode: 'monotone',
    order: (6 - i) * 2
  });
});
mplChart('chart_d', dSets, {
  padTop: 38, padRight: 26, xHeight: 64, yWidth: 143,
  xMin: 80.165, xMax: 83.305, xTicks: dXTicks, xDigits: 1,
  yMin: -537, yMax: 12190, yTicks: dYTicks
});

// ---------- legends ----------
buildLegend([1072, 28, 113, 207], 1095, 1127, 44, 29.2);
buildLegend([423, 469, 119, 208], 447, 479, 487, 29);
buildLegend([1071, 467, 114, 210], 1095, 1126, 487, 29);
</script>
</body>
</html>
